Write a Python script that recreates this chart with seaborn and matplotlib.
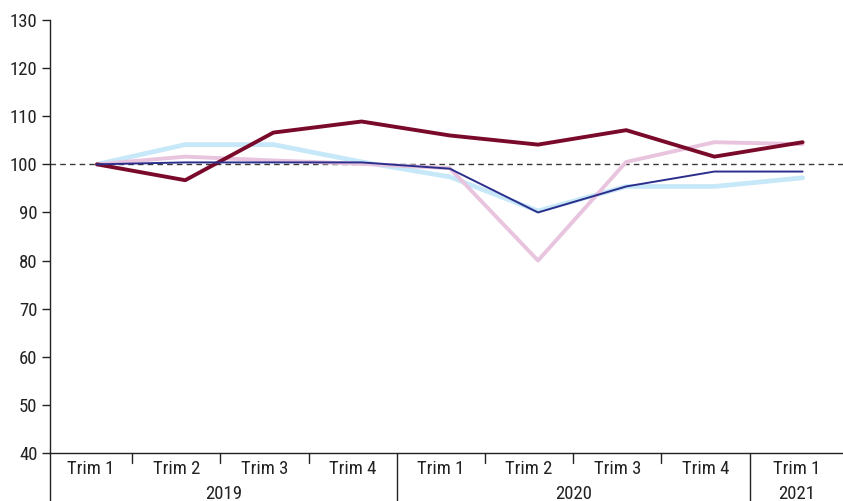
import matplotlib
matplotlib.use("Agg")
import matplotlib.pyplot as plt
import matplotlib.transforms as mtransforms
import seaborn as sns
import numpy as np

# quarters on the x axis
quarters = ['Trim 1', 'Trim 2', 'Trim 3', 'Trim 4',
            'Trim 1', 'Trim 2', 'Trim 3', 'Trim 4',
            'Trim 1']
years = ['2019', '2020', '2021']
year_sizes = [4, 4, 1]

# index values (base 100)
serie_bordeaux = [100, 96.7, 106.6, 108.9, 106.0, 104.1, 107.1, 101.6, 104.6]
serie_rose = [100, 101.6, 100.8, 100.1, 99.2, 80.0, 100.5, 104.6, 104.2]
serie_bleu_clair = [100, 104.1, 104.1, 100.5, 97.4, 90.3, 95.4, 95.4, 97.2]
serie_marine = [100, 100.4, 100.4, 100.4, 99.1, 90.0, 95.4, 98.5, 98.5]

sns.set_theme(style="white")
plt.rcParams['font.family'] = ['Liberation Sans Narrow', 'Roboto Condensed', 'DejaVu Sans']
plt.rcParams['font.stretch'] = 'condensed'
fs = 13.5

fig = plt.figure(figsize=(8.43, 5.01), dpi=100)
ax = fig.add_axes([50 / 843, 48 / 501, 793 / 843, 433 / 501])

x = np.arange(len(quarters))

ax.axhline(100, color='#3a3a3a', linestyle=(0, (4, 3)), linewidth=1.0, zorder=1)

sns.lineplot(x=x, y=serie_bleu_clair, color='#c6e8f8', linewidth=3.4, ax=ax, zorder=2)
sns.lineplot(x=x, y=serie_rose, color='#e8c4de', linewidth=2.8, ax=ax, zorder=3)
sns.lineplot(x=x, y=serie_bordeaux, color='#7a0a2a', linewidth=2.8, ax=ax, zorder=4)
sns.lineplot(x=x, y=serie_marine, color='#2b2f8c', linewidth=1.4, ax=ax, zorder=5)

ax.set_ylim(40, 130)
ax.set_xlim(-0.533, 8.458)
ax.set_yticks(np.arange(40, 131, 10))
ax.tick_params(axis='y', labelsize=fs, length=6, width=1, colors='#222222',
               direction='out', left=True, pad=3)
ax.set_xticks([])

for side in ['top', 'right']:
    ax.spines[side].set_visible(False)
ax.spines['left'].set_color('#222222')
ax.spines['bottom'].set_color('#222222')
ax.spines['left'].set_linewidth(1)
ax.spines['bottom'].set_linewidth(1)

# extend the left spine to the bottom of the figure
trans = mtransforms.blended_transform_factory(ax.transData, ax.transAxes)
ax.plot([-0.533, -0.533], [0, -0.12], color='#222222', lw=1,
        transform=trans, clip_on=False)

# category table under the axis
seps = [i + 0.4 for i in range(len(quarters) - 1)]
edges = [-0.533] + seps + [8.458]
for i, lab in enumerate(quarters):
    ax.text((edges[i] + edges[i + 1]) / 2, -0.037, lab, transform=trans,
            ha='center', va='center', fontsize=fs, color='#222222')

year_bounds = np.cumsum(year_sizes)[:-1]
for k, s in enumerate(seps):
    if k + 1 in year_bounds:
        ax.plot([s, s], [0, -0.12], color='#222222', lw=1,
                transform=trans, clip_on=False)
    else:
        ax.plot([s, s], [0, -0.024], color='#222222', lw=1,
                transform=trans, clip_on=False)

start = 0
for yr, n in zip(years, year_sizes):
    left = edges[start]
    right = edges[start + n]
    ax.text((left + right) / 2, -0.095, yr, transform=trans,
            ha='center', va='center', fontsize=fs, color='#222222')
    start += n

plt.savefig("out.png", dpi=100)
plt.close()
